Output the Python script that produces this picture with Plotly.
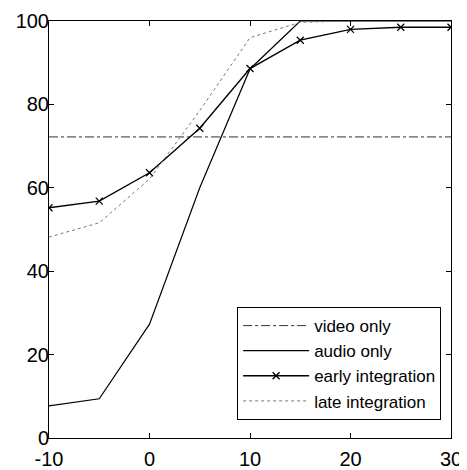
import plotly.graph_objects as go

snr = [-10, -5, 0, 5, 10, 15, 20, 25, 30]
video_only = [72.2, 72.2, 72.2, 72.2, 72.2, 72.2, 72.2, 72.2, 72.2]
audio_only = [7.7, 9.4, 27.3, 60.0, 88.5, 100, 100, 100, 100]
early_integration = [55.2, 56.8, 63.6, 74.3, 88.6, 95.4, 98.0, 98.5, 98.5]
late_integration = [48.2, 51.6, 62.1, 78.5, 96.0, 99.7, 100, 100, 100]

x_ticks = [-10, 0, 10, 20, 30]
y_ticks = [0, 20, 40, 60, 80, 100]

fig = go.Figure()
fig.add_trace(go.Scatter(x=snr, y=video_only, mode="lines", name="video only",
                         line=dict(color="#333333", width=1, dash="dashdot")))
fig.add_trace(go.Scatter(x=snr, y=audio_only, mode="lines", name="audio only",
                         line=dict(color="black", width=1.2)))
fig.add_trace(go.Scatter(x=snr, y=early_integration, mode="lines+markers", name="early integration",
                         line=dict(color="black", width=1.4),
                         marker=dict(symbol="x-thin", size=7, line=dict(color="black", width=1.3))))
fig.add_trace(go.Scatter(x=snr, y=late_integration, mode="lines", name="late integration",
                         line=dict(color="#777777", width=1, dash="dot")))

axis_common = dict(showgrid=False, zeroline=False, showline=True, linecolor="black", linewidth=1,
                   mirror="ticks", ticks="inside", ticklen=5, tickcolor="black", automargin=False,
                   tickfont=dict(family="Liberation Sans, Arial, sans-serif", size=20, color="black"))

fig.update_xaxes(range=[-10, 30], tickvals=x_ticks, ticktext=[str(v) for v in x_ticks],
                 ticklabelstandoff=3, **axis_common)
fig.update_yaxes(range=[0, 100], tickvals=y_ticks, ticktext=[str(v) for v in y_ticks],
                 ticklabelstandoff=-5, **axis_common)

# page body has an 8px default margin, so the figure is sized to end at the window edge
fig.update_layout(
    width=459, height=462,
    margin=dict(l=41, r=16, t=13, b=32),
    paper_bgcolor="white", plot_bgcolor="white",
    showlegend=True,
    legend=dict(x=0.468, y=0.314, xanchor="left", yanchor="top",
                bordercolor="black", borderwidth=1, bgcolor="white",
                font=dict(family="Liberation Sans, Arial, sans-serif", size=17, color="black"),
                itemwidth=66, tracegroupgap=0),
)

fig.write_html("out.html")
